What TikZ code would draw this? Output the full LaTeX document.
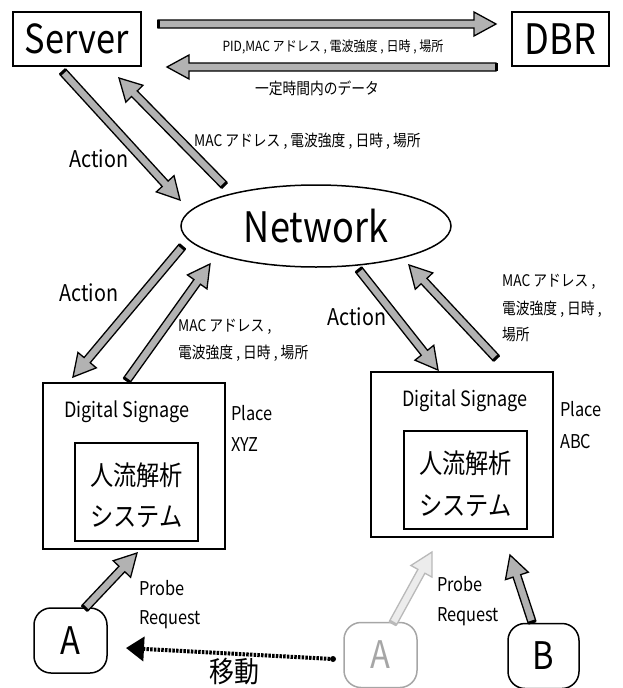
\documentclass[tikz,border=0pt]{standalone}
\usepackage{fontspec}
\setmainfont[FakeStretch=0.86]{Noto Sans CJK JP}
\usetikzlibrary{calc,arrows.meta,shapes.geometric}
\tikzset{
  box/.style={draw, line width=1.5pt, inner sep=0pt},
  fs/.style={font=\fontsize{#1}{#1}\selectfont},
  lbl/.style={inner sep=0pt, fs=16},
  lbll/.style={lbl, anchor=west},
  fatstyle/.style={fill=gray!60, draw=black, line width=1.3pt, line join=miter},
  fattail/.style={line width=3pt, draw=black},
  person/.style={draw, line width=1.5pt, rounded corners=17pt, minimum width=73pt, minimum height=65pt, fs=38, inner sep=0pt},
}
\newcommand\fatarr[4][]{%
  \coordinate (fah) at ($(#3)!22pt!(#2)$);
  \draw[fatstyle,#1] ($(#2)!4pt!90:(#3)$) -- ($(fah)!4pt!90:(#3)$) -- ($(fah)!12pt!90:(#3)$) -- (#3)
     -- ($(fah)!12pt!-90:(#3)$) -- ($(fah)!4pt!-90:(#3)$) -- ($(#2)!4pt!-90:(#3)$) -- cycle;
  \draw[fattail,#4] ($(#2)!4pt!90:(#3)$) -- ($(#2)!4pt!-90:(#3)$);
}
\begin{document}
\begin{tikzpicture}[x=1pt,y=-1pt]
\useasboundingbox (0,0) rectangle (622,688);
% nodes
\node[box, minimum width=128pt, minimum height=54pt, fs=40] (server) at (77,39) {Server};
\node[box, minimum width=97pt, minimum height=54pt, fs=42] (dbr) at (560.5,39) {DBR};
\node[draw, ellipse, line width=1.5pt, minimum width=270pt, minimum height=82pt, inner sep=0pt, fs=42] (net) at (316,226) {Network};
\node[box, minimum width=182pt, minimum height=166pt] (ds1) at (134,466) {};
\node[box, minimum width=123pt, minimum height=98pt] (sys1) at (136.5,492) {};
\node[box, minimum width=182pt, minimum height=165pt] (ds2) at (462,454.5) {};
\node[box, minimum width=123pt, minimum height=98pt] (sys2) at (465.5,480) {};
\node[person] (a1) at (70.5,640.5) {A};
\node[person, draw=gray!70, text=gray!70] (a2) at (380.5,655) {A};
\node[person, minimum width=71pt] (b) at (543.5,656) {B};
% texts in boxes
\node[lbl, fs=21] (dst1) at (127,412) {Digital Signage};
\node[lbl, fs=27] (s1a) at (136.5,475) {人流解析};
\node[lbl, fs=27] (s1b) at (136.5,517) {システム};
\node[lbl, fs=21] (dst2) at (465,401) {Digital Signage};
\node[lbl, fs=27] (s2a) at (465.5,463) {人流解析};
\node[lbl, fs=27] (s2b) at (465.5,506) {システム};
\node[lbll, fs=19] (p1a) at (231,413) {Place};
\node[lbll, fs=19] (p1b) at (231,445) {XYZ};
\node[lbll, fs=19] (p2a) at (560,409) {Place};
\node[lbll, fs=19] (p2b) at (560,442) {ABC};
\node[lbll, fs=19] (pr1a) at (139,588) {Probe};
\node[lbll, fs=19] (pr1b) at (139,620) {Request};
\node[lbll, fs=19] (pr2a) at (437,584) {Probe};
\node[lbll, fs=19] (pr2b) at (437,617) {Request};
\node[lbl, fs=29] (move) at (234,672) {移動};
% labels
\node[lbl, fs=14] (l1) at (333,47) {PID,MAC アドレス , 電波強度 , 日時 , 場所};
\node[lbl, fs=16] (l2) at (317,88) {一定時間内のデータ};
\node[lbl, fs=23] (act1) at (99,159) {Action};
\node[lbll] (m1) at (194,141) {MAC アドレス , 電波強度 , 日時 , 場所};
\node[lbl, fs=23] (act2) at (89,293) {Action};
\node[lbll] (m2a) at (178,327) {MAC アドレス ,};
\node[lbll] (m2b) at (178,353) {電波強度 , 日時 , 場所};
\node[lbl, fs=23] (act3) at (357,317) {Action};
\node[lbll] (m3a) at (502,282) {MAC アドレス ,};
\node[lbll] (m3b) at (502,309) {電波強度 , 日時 ,};
\node[lbll] (m3c) at (502,335) {場所};
% arrow endpoints
\coordinate (t1s) at (158,24);  \coordinate (t1e) at (496,24);
\coordinate (t2s) at (496,67);  \coordinate (t2e) at (167,67);
\coordinate (sns) at (63,72);   \coordinate (sne) at (180,200);
\coordinate (nss) at (224,185); \coordinate (nse) at (119,78);
\coordinate (nd1s) at (182,247); \coordinate (nd1e) at (73,377);
\coordinate (d1ns) at (127,380); \coordinate (d1ne) at (210,264);
\coordinate (nd2s) at (359,270); \coordinate (nd2e) at (438,370);
\coordinate (d2ns) at (496,358); \coordinate (d2ne) at (409,265);
\coordinate (a1s) at (85,608);  \coordinate (a1e) at (137,553);
\coordinate (a2s) at (393,623); \coordinate (a2e) at (432,552);
\coordinate (bs) at (532,622);  \coordinate (be) at (510,555);
\coordinate (mvs) at (333,659); \coordinate (mve) at (126,648);
% arrows
\fatarr{t1s}{t1e}{}
\fatarr{t2s}{t2e}{}
\fatarr{sns}{sne}{}
\fatarr{nss}{nse}{}
\fatarr{nd1s}{nd1e}{}
\fatarr{d1ns}{d1ne}{}
\fatarr{nd2s}{nd2e}{}
\fatarr{d2ns}{d2ne}{}
\fatarr{a1s}{a1e}{}
\fatarr[fill=gray!15, draw=gray!55]{a2s}{a2e}{draw=gray!55}
\fatarr{bs}{be}{}
\fill (mvs) circle (3pt);
\draw[line width=4pt, dash pattern=on 2.5pt off 1.2pt, -{Triangle[length=18pt,width=24pt]}, shorten <=3pt] (mvs) -- (mve);
\end{tikzpicture}
\end{document}
